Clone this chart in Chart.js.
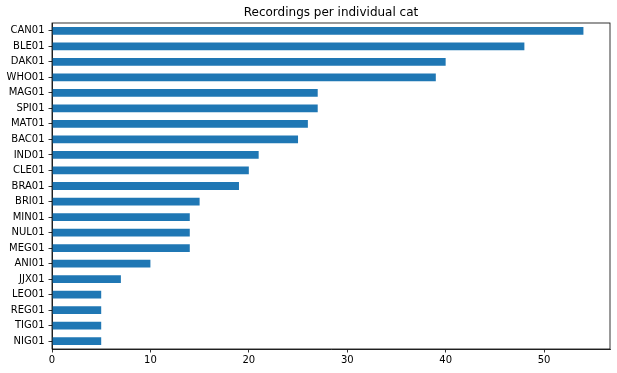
<!DOCTYPE html>
<html>
<head>
<meta charset="utf-8">
<script src="https://cdn.jsdelivr.net/npm/chart.js@4/dist/chart.umd.min.js"></script>
<style>
html,body{margin:0;padding:0;background:#fff;}
#wrap{width:617px;height:373px;position:relative;}
</style>
</head>
<body>
<div id="wrap"><canvas id="c" width="617" height="373"></canvas></div>
<script>
const titleText = "Recordings per individual cat";
const categories = ["CAN01","BLE01","DAK01","WHO01","MAG01","SPI01","MAT01","BAC01","IND01","CLE01","BRA01","BRI01","MIN01","NUL01","MEG01","ANI01","JJX01","LEO01","REG01","TIG01","NIG01"];
const recordings = [54,48,40,39,27,27,26,25,21,20,19,15,14,14,14,10,7,5,5,5,5];
const xTicks = [0,10,20,30,40,50];
const xMax = 56.7;

const FONT = "'DejaVu Sans', sans-serif";

const framePlugin = {
  id: 'frame',
  afterDraw(chart) {
    const {ctx, chartArea: a} = chart;
    ctx.save();
    ctx.strokeStyle = '#000';
    ctx.lineWidth = 0.8;
    ctx.strokeRect(a.left, a.top, a.right - a.left, a.bottom - a.top);
    ctx.fillStyle = '#000';
    ctx.font = "12px " + FONT;
    ctx.textAlign = 'center';
    ctx.textBaseline = 'alphabetic';
    ctx.fillText(titleText, (a.left + a.right) / 2, a.top - 7);
    ctx.restore();
  }
};

new Chart(document.getElementById('c'), {
  type: 'bar',
  data: {
    labels: categories,
    datasets: [{
      data: recordings,
      backgroundColor: '#1f77b4',
      borderWidth: 0,
      barPercentage: 0.5,
      categoryPercentage: 1.0
    }]
  },
  options: {
    indexAxis: 'y',
    responsive: false,
    animation: false,
    devicePixelRatio: 1,
    layout: { padding: { top: 23, right: 7, left: 0, bottom: 0 } },
    plugins: {
      legend: { display: false },
      title: { display: false },
      tooltip: { enabled: false }
    },
    scales: {
      x: {
        type: 'linear',
        min: 0,
        max: xMax,
        afterFit(s) { s.height = 24; },
        afterBuildTicks(s) { s.ticks = xTicks.map(v => ({ value: v })); },
        grid: { display: true, drawOnChartArea: false, drawTicks: true, tickLength: 3.5, color: '#000', lineWidth: 0.8 },
        border: { display: true, color: '#000', width: 0.8 },
        ticks: { color: '#000', font: { family: FONT, size: 10 }, padding: 2, maxRotation: 0 }
      },
      y: {
        type: 'category',
        offset: true,
        afterFit(s) { s.width = 52; },
        grid: { display: true, drawOnChartArea: false, drawTicks: true, tickLength: 3.5, color: '#000', lineWidth: 0.8, offset: false },
        border: { display: true, color: '#000', width: 0.8 },
        ticks: { color: '#000', font: { family: FONT, size: 10 }, padding: 4, autoSkip: false }
      }
    }
  },
  plugins: [framePlugin]
});
</script>
</body>
</html>
